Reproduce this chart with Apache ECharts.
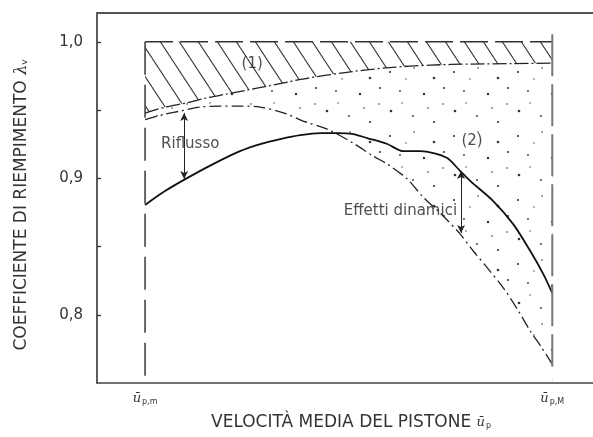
<!DOCTYPE html>
<html><head><meta charset="utf-8">
<script src="https://cdn.jsdelivr.net/npm/echarts@6/dist/echarts.min.js"></script>
<style>html,body{margin:0;padding:0;background:#fff}#c{width:593px;height:437px}</style>
</head><body><div id="c"></div>
<script>
// y axis ticks / labels
const yTicks = [0.8, 0.85, 0.9, 0.95, 1.0];
const yLabels = [0.8, 0.9, 1.0];
// x axis labels (relative mean piston speed: 0 = ū p,m ; 1 = ū p,M)
const xLabels = [0, 1];
const xLabelSub = ['p,m', 'p,M'];
// upper limit line (λv = 1)
const limitX = [0, 1];
const limitY = [1.0, 1.0];
// curve (1): lower edge of hatched area
const hatchX = [0, 0.05, 0.1, 0.15, 0.2, 0.25, 0.3, 0.35, 0.4, 0.5, 0.6, 0.7, 0.8, 0.9, 1.0];
const hatchY = [0.9478, 0.9522, 0.9551, 0.9588, 0.9617, 0.9646, 0.9675, 0.9705, 0.9734, 0.9778, 0.9811, 0.9829, 0.9837, 0.9840, 0.9844];
// dash-dot curve (without reflux)
const idealX = [0, 0.049, 0.086, 0.135, 0.184, 0.233, 0.283, 0.349, 0.388, 0.447, 0.511, 0.560, 0.595, 0.644, 0.683, 0.725, 0.774, 0.806, 0.843, 0.880, 0.914, 0.946, 0.973, 1.0];
const idealY = [0.943, 0.9470, 0.9492, 0.9522, 0.9529, 0.9529, 0.9522, 0.9470, 0.9419, 0.9360, 0.9258, 0.9163, 0.9104, 0.8994, 0.8862, 0.8745, 0.8591, 0.8467, 0.8335, 0.8196, 0.8042, 0.7881, 0.7764, 0.7639];
// solid curve (2): real filling coefficient
const realX = [0, 0.049, 0.103, 0.167, 0.233, 0.283, 0.332, 0.381, 0.430, 0.472, 0.511, 0.545, 0.595, 0.634, 0.676, 0.708, 0.742, 0.774, 0.799, 0.855, 0.904, 0.946, 0.978, 1.0];
const realY = [0.8804, 0.8906, 0.9001, 0.9104, 0.9199, 0.9251, 0.9287, 0.9316, 0.9331, 0.9331, 0.9324, 0.9295, 0.9251, 0.9199, 0.9199, 0.9185, 0.9148, 0.9053, 0.8979, 0.8833, 0.8664, 0.8467, 0.8298, 0.8159];
// vertical limit lines
const leftLineX = [0, 0];
const leftLineY = [1.0, 0.755];
const rightLineX = [1, 1];
const rightLineY = [1.0056, 0.762];
// double arrows
const arrowX = [0.096, 0.776];
const arrowTop = [0.9478, 0.9053];
const arrowBottom = [0.8994, 0.8599];
// annotations
const noteText = ['Riflusso', 'Effetti dinamici', '(1)', '(2)'];
const noteX = [0.111, 0.627, 0.263, 0.803];
const noteY = [0.925, 0.876, 0.9837, 0.9273];

function pairs(xs, ys) { return xs.map((x, i) => [x, ys[i]]); }

function hatchPattern() {
  const c = document.createElement('canvas');
  c.width = 19; c.height = 29;
  const g = c.getContext('2d');
  g.strokeStyle = '#333'; g.lineWidth = 1.1;
  for (const dx of [-19, 0, 19]) {
    g.beginPath(); g.moveTo(dx, 0); g.lineTo(dx + 19, 29); g.stroke();
  }
  return c;
}
function dotPattern() {
  const c = document.createElement('canvas');
  c.width = 64; c.height = 64;
  const g = c.getContext('2d');
  g.fillStyle = '#fff'; g.fillRect(0, 0, 64, 64);
  g.fillStyle = '#333';
  const pts = [[6, 8, 1.1], [30, 4, 0.8], [50, 14, 1.3], [16, 27, 0.9], [40, 30, 1.2], [59, 40, 0.8],
               [7, 47, 1.3], [29, 52, 0.9], [50, 58, 1.1], [22, 15, 0.7], [44, 44, 0.8], [60, 24, 1.0], [18, 39, 0.7]];
  for (const p of pts) { g.beginPath(); g.arc(p[0], p[1], p[2], 0, Math.PI * 2); g.fill(); }
  return c;
}

const chart = echarts.init(document.getElementById('c'), null, { renderer: 'canvas' });
const F = 'DejaVu Sans';
const uRich = {
  u: { fontFamily: 'DejaVu Serif', fontStyle: 'italic', fontSize: 13, color: '#333' },
  s: { fontSize: 8, color: '#333', padding: [7, 0, 0, 1] }
};
chart.setOption({
  animation: false,
  backgroundColor: '#fff',
  textStyle: { fontFamily: F },
  grid: { left: 97, right: 0, top: 13, bottom: 54 },
  xAxis: [{
    type: 'value', min: -0.118, max: 1.1, z: 10,
    axisLine: { show: true, onZero: false, lineStyle: { color: '#444', width: 1.6 } },
    axisTick: { show: false },
    splitLine: { show: false },
    axisLabel: {
      customValues: xLabels, margin: 8,
      formatter: v => '{u|ū}{s|' + xLabelSub[xLabels.indexOf(Math.round(v))] + '}',
      rich: uRich
    },
    name: 'VELOCITÀ MEDIA DEL PISTONE {u|ū}{s|p}',
    nameLocation: 'middle', nameGap: 31,
    nameTextStyle: { fontSize: 17, color: '#333', padding: [0, 0, 0, 12], rich: uRich }
  }, {
    type: 'value', position: 'top', min: -0.118, max: 1.1, z: 10,
    axisLine: { show: true, onZero: false, lineStyle: { color: '#555', width: 2 } },
    axisTick: { show: false }, axisLabel: { show: false }, splitLine: { show: false }
  }],
  yAxis: {
    type: 'value', min: 0.75, max: 1.0211, z: 10,
    axisLine: { show: true, onZero: false, lineStyle: { color: '#333', width: 1.6 } },
    axisTick: { show: true, inside: true, length: 4, customValues: yTicks, lineStyle: { color: '#333', width: 1.3 } },
    splitLine: { show: false },
    axisLabel: {
      customValues: yLabels, margin: 14, fontSize: 15, color: '#333',
      formatter: v => v.toFixed(1).replace('.', ',')
    },
    name: 'COEFFICIENTE DI RIEMPIMENTO {l|λ}{s|v}',
    nameLocation: 'middle', nameGap: 67, nameRotate: 90,
    nameTextStyle: {
      fontSize: 17, color: '#333', padding: [0, 14, 0, 0],
      rich: {
        l: { fontSize: 16, fontFamily: 'DejaVu Serif', fontStyle: 'italic', color: '#333' },
        s: { fontSize: 9, color: '#333', padding: [7, 0, 0, 0] }
      }
    }
  },
  series: [
    {
      type: 'line', name: 'limite', data: pairs(limitX, limitY), symbol: 'none', z: 1, silent: true,
      lineStyle: { color: '#333', width: 1.6, type: [28, 7] },
      areaStyle: { color: { image: hatchPattern(), repeat: 'repeat' }, opacity: 1 }
    },
    {
      type: 'line', name: '(1)', data: pairs(hatchX, hatchY), smooth: 0.3, symbol: 'none', z: 2, silent: true,
      lineStyle: { color: '#222', width: 1.3, type: [14, 3, 2, 3] },
      areaStyle: { color: { image: dotPattern(), repeat: 'repeat' }, opacity: 1 }
    },
    {
      type: 'line', name: 'ideale', data: pairs(idealX, idealY), smooth: 0.3, symbol: 'none', z: 3, silent: true,
      lineStyle: { color: '#222', width: 1.3, type: [12, 4, 2, 4] },
      areaStyle: { color: '#fff', opacity: 1 }
    },
    {
      type: 'line', name: '(2)', data: pairs(realX, realY), smooth: 0.3, symbol: 'none', z: 4, silent: true,
      lineStyle: { color: '#111', width: 1.8 },
      markLine: {
        silent: true, symbol: ['arrow', 'arrow'], symbolSize: [6, 8],
        label: { show: false },
        lineStyle: { color: '#222', width: 1, type: 'solid' },
        data: arrowX.map((x, i) => [{ coord: [x, arrowTop[i]] }, { coord: [x, arrowBottom[i]] }])
      }
    },
    {
      type: 'line', name: 'min', data: pairs(leftLineX, leftLineY), symbol: 'none', z: 5, silent: true,
      lineStyle: { color: '#444', width: 1.6, type: [33, 10] }
    },
    {
      type: 'line', name: 'max', data: pairs(rightLineX, rightLineY), symbol: 'none', z: 5, silent: true,
      lineStyle: { color: '#777', width: 2, type: [42, 8] }
    },
    {
      type: 'scatter', name: 'note', symbolSize: 0, z: 6, silent: true,
      data: noteX.map((x, i) => ({ value: [x, noteY[i]], label: { formatter: noteText[i] } })),
      label: { show: true, position: 'inside', color: '#222', fontSize: 15, fontFamily: F }
    }
  ]
});
</script>
</body></html>
